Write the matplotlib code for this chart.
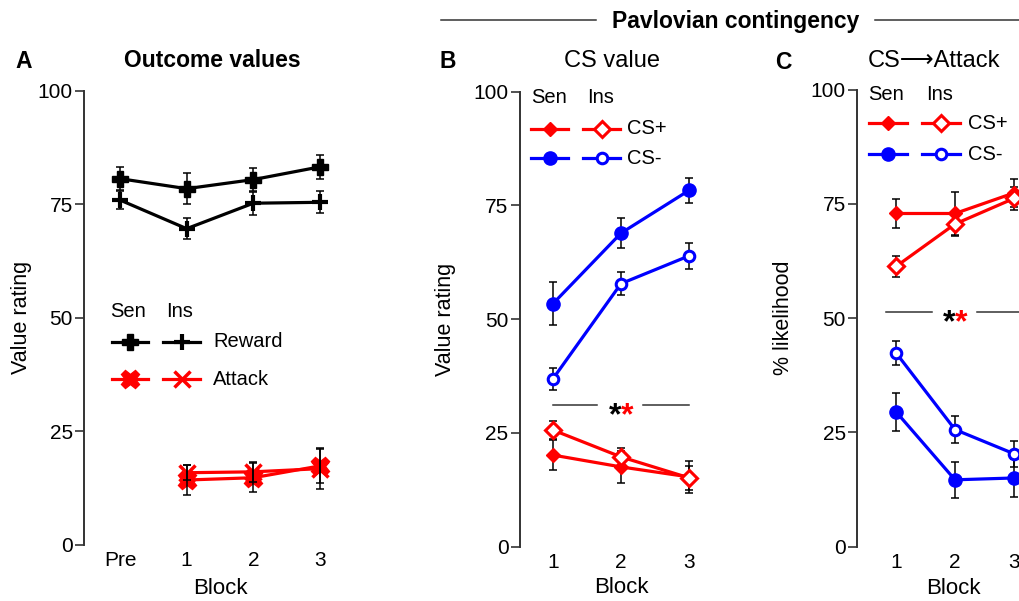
import matplotlib
matplotlib.use('Agg')
import matplotlib.pyplot as plt
from matplotlib.lines import Line2D
import numpy as np

plt.rcParams['font.family'] = ['Liberation Sans', 'DejaVu Sans']
plt.rcParams['axes.linewidth'] = 1.4

RED = '#ff0000'
BLUE = '#0000ff'
SPINE = '#333333'

# ---- data ----
blocks_a = ['Pre', '1', '2', '3']
reward_sen = [80.6, 78.4, 80.4, 83.2]
reward_sen_err = [2.6, 3.4, 2.6, 2.6]
reward_ins = [75.9, 69.6, 75.2, 75.4]
reward_ins_err = [2.0, 2.3, 2.5, 2.4]
attack_sen = [14.3, 14.8, 17.4]
attack_sen_err = [3.2, 3.2, 3.8]
attack_ins = [15.9, 16.1, 16.8]
attack_ins_err = [1.6, 2.2, 4.5]

blocks = [1, 2, 3]
# CS value
val_csp_sen = [20.1, 17.5, 15.3]
val_csp_sen_err = [3.3, 3.6, 3.5]
val_csp_ins = [25.6, 19.7, 15.1]
val_csp_ins_err = [2.0, 2.0, 2.6]
val_csm_sen = [53.4, 68.9, 78.3]
val_csm_sen_err = [4.7, 3.3, 2.8]
val_csm_ins = [36.9, 57.8, 63.9]
val_csm_ins_err = [2.4, 2.6, 2.8]
# CS -> Attack
att_csp_sen = [72.9, 72.9, 77.4]
att_csp_sen_err = [3.2, 4.6, 3.0]
att_csp_ins = [61.3, 70.6, 76.2]
att_csp_ins_err = [2.3, 2.6, 2.5]
att_csm_sen = [29.5, 14.6, 15.0]
att_csm_sen_err = [4.2, 3.9, 4.2]
att_csm_ins = [42.4, 25.6, 20.3]
att_csm_ins_err = [2.6, 3.0, 2.9]

W, H = 1019, 601
fig = plt.figure(figsize=(W / 100, H / 100), dpi=100)

TICK_FS = 15
LAB_FS = 16
LEG_FS = 14.5


def px_axes(left, right, bottom, top):
    return fig.add_axes([left / W, 1 - bottom / H, (right - left) / W, (bottom - top) / H])


def style_axes(ax, xlim, xticks, xticklabels):
    ax.set_xlim(*xlim)
    ax.set_ylim(0, 100)
    for s in ['top', 'right', 'bottom']:
        ax.spines[s].set_visible(False)
    ax.spines['left'].set_color(SPINE)
    ax.set_yticks([0, 25, 50, 75, 100])
    ax.set_xticks(xticks)
    ax.set_xticklabels(xticklabels)
    ax.tick_params(axis='y', length=6.5, width=1.2, color=SPINE, pad=1.5, labelsize=TICK_FS)
    ax.tick_params(axis='x', length=0, pad=4.5, labelsize=TICK_FS)
    ax.patch.set_alpha(0)


def series(ax, x, y, err, color, marker, ms, mfc, mew, err_on_top=False):
    ax.plot(x, y, color=color, lw=2.3, zorder=2, clip_on=False)
    ax.errorbar(x, y, yerr=err, fmt='none', ecolor='black', elinewidth=1.1,
                capsize=3, capthick=1.1, zorder=4 if err_on_top else 2.5, clip_on=False)
    ax.plot(x, y, ls='none', marker=marker, ms=ms, mfc=mfc, mec=color, mew=mew,
            zorder=3, clip_on=False)


def legend_row(ax, y, sen_x, ins_x, color, sen_m, ins_m, label, txt_x):
    for (x0, x1, xm), (m, ms, mfc, mew) in zip([sen_x, ins_x], [sen_m, ins_m]):
        ax.plot([x0, x1], [y, y], color=color, lw=2.3, transform=ax.transAxes, clip_on=False)
        ax.plot([xm], [y], marker=m, ms=ms, mfc=mfc, mec=color, mew=mew,
                transform=ax.transAxes, clip_on=False)
    ax.text(txt_x, y, label, transform=ax.transAxes, fontsize=LEG_FS, va='center', ha='left')


def headers(ax, y, sen_cx, ins_cx):
    ax.text(sen_cx, y, 'Sen', transform=ax.transAxes, fontsize=LEG_FS, ha='center', va='center')
    ax.text(ins_cx, y, 'Ins', transform=ax.transAxes, fontsize=LEG_FS, ha='center', va='center')


def sig(ax, y, x0, g0, g1, x1, fs=23):
    ax.plot([x0, g0], [y, y], color=SPINE, lw=1.1, clip_on=False)
    ax.plot([g1, x1], [y, y], color=SPINE, lw=1.1, clip_on=False)
    ax.annotate('*', xy=(2, y), xytext=(0, -0.6 * fs), textcoords='offset points',
                ha='right', va='baseline', fontsize=fs, fontweight='bold', color='black')
    ax.annotate('*', xy=(2, y), xytext=(0, -0.6 * fs), textcoords='offset points',
                ha='left', va='baseline', fontsize=fs, fontweight='bold', color=RED)


# ---- panel A ----
axA = px_axes(84, 340, 545, 90.5)
style_axes(axA, (-0.54, 3.3), [0, 1, 2, 3], blocks_a)
xa = np.arange(len(blocks_a))
series(axA, xa, reward_sen, reward_sen_err, 'black', 'P', 11, 'black', 1, True)
series(axA, xa, reward_ins, reward_ins_err, 'black', '+', 11, 'black', 3, True)
series(axA, xa[1:], attack_sen, attack_sen_err, RED, 'X', 13, RED, 1, True)
series(axA, xa[1:], attack_ins, attack_ins_err, RED, 'x', 11, RED, 2.5, True)
headers(axA, 0.513, 0.172, 0.375)
legend_row(axA, 0.447, (0.109, 0.250, 0.18), (0.309, 0.453, 0.381), 'black',
           ('P', 11, 'black', 1), ('+', 11, 'black', 3), 'Reward', 0.504)
legend_row(axA, 0.365, (0.109, 0.250, 0.18), (0.309, 0.453, 0.381), RED,
           ('X', 13, RED, 1), ('x', 11, RED, 2.5), 'Attack', 0.504)
axA.set_ylabel('Value rating', fontsize=15.5, va='center')
axA.yaxis.set_label_coords(-0.245, 0.5)
axA.set_xlabel('Block', fontsize=LAB_FS, va='center')
axA.xaxis.set_label_coords(0.531, -0.095)

# ---- panel B ----
axB = px_axes(519.5, 709.4, 546.5, 91.7)
style_axes(axB, (0.507, 3.3), blocks, ['1', '2', '3'])
series(axB, blocks, val_csm_sen, val_csm_sen_err, BLUE, 'o', 9.5, BLUE, 1)
series(axB, blocks, val_csm_ins, val_csm_ins_err, BLUE, 'o', 7.6, 'white', 2.2)
series(axB, blocks, val_csp_sen, val_csp_sen_err, RED, 'D', 7, RED, 1)
series(axB, blocks, val_csp_ins, val_csp_ins_err, RED, 'D', 8, 'white', 2.2)
sig(axB, 31.2, 1, 1.65, 2.32, 3)
headers(axB, 0.988, 0.155, 0.429)
legend_row(axB, 0.918, (0.061, 0.255, 0.158), (0.334, 0.529, 0.432), RED,
           ('D', 7, RED, 1), ('D', 8, 'white', 2.2), 'CS+', 0.566)
legend_row(axB, 0.854, (0.061, 0.255, 0.158), (0.334, 0.529, 0.432), BLUE,
           ('o', 9.5, BLUE, 1), ('o', 7.6, 'white', 2.2), 'CS-', 0.566)
axB.set_ylabel('Value rating', fontsize=15.5, va='center')
axB.yaxis.set_label_coords(-0.392, 0.5)
axB.set_xlabel('Block', fontsize=LAB_FS, va='center')
axB.xaxis.set_label_coords(0.539, -0.091)

# ---- panel C ----
axC = px_axes(857, 1031.7, 546.5, 89.7)
style_axes(axC, (0.339, 3.3), blocks, ['1', '2', '3'])
series(axC, blocks, att_csp_sen, att_csp_sen_err, RED, 'D', 7, RED, 1)
series(axC, blocks, att_csp_ins, att_csp_ins_err, RED, 'D', 8, 'white', 2.2)
series(axC, blocks, att_csm_sen, att_csm_sen_err, BLUE, 'o', 9.5, BLUE, 1)
series(axC, blocks, att_csm_ins, att_csm_ins_err, BLUE, 'o', 7.6, 'white', 2.2)
sig(axC, 51.3, 0.83, 1.61, 2.37, 3.3)
headers(axC, 0.99, 0.166, 0.475)
legend_row(axC, 0.927, (0.069, 0.286, 0.177), (0.372, 0.590, 0.481), RED,
           ('D', 7, RED, 1), ('D', 8, 'white', 2.2), 'CS+', 0.635)
legend_row(axC, 0.859, (0.069, 0.286, 0.177), (0.372, 0.590, 0.481), BLUE,
           ('o', 9.5, BLUE, 1), ('o', 7.6, 'white', 2.2), 'CS-', 0.635)
axC.set_ylabel('% likelihood', fontsize=15.5, va='center')
axC.yaxis.set_label_coords(-0.418, 0.5)
axC.set_xlabel('Block', fontsize=LAB_FS, va='center')
axC.xaxis.set_label_coords(0.55, -0.091)


# ---- titles, panel letters, header ----
def ftext(x, y, s, **kw):
    fig.text(x / W, 1 - y / H, s, va='baseline', **kw)


ftext(23.5, 68, 'A', fontsize=16.5, fontweight='bold', ha='center')
ftext(448, 68, 'B', fontsize=16.5, fontweight='bold', ha='center')
ftext(783.5, 69, 'C', fontsize=16.5, fontweight='bold', ha='center')
ftext(212.5, 67, 'Outcome values', fontsize=16.5, fontweight='bold', ha='center')
ftext(612, 67, 'CS value', fontsize=17, ha='center')
ftext(934, 67, 'CS\u27f6Attack', fontsize=17, ha='center')
ftext(735.5, 28, 'Pavlovian contingency', fontsize=16.5, fontweight='bold', ha='center')
fig.add_artist(Line2D([441 / W, 596 / W], [1 - 20 / H, 1 - 20 / H], color=SPINE, lw=1.1))
fig.add_artist(Line2D([875 / W, 1.0], [1 - 20 / H, 1 - 20 / H], color=SPINE, lw=1.1))

fig.savefig('out.png', dpi=100)
